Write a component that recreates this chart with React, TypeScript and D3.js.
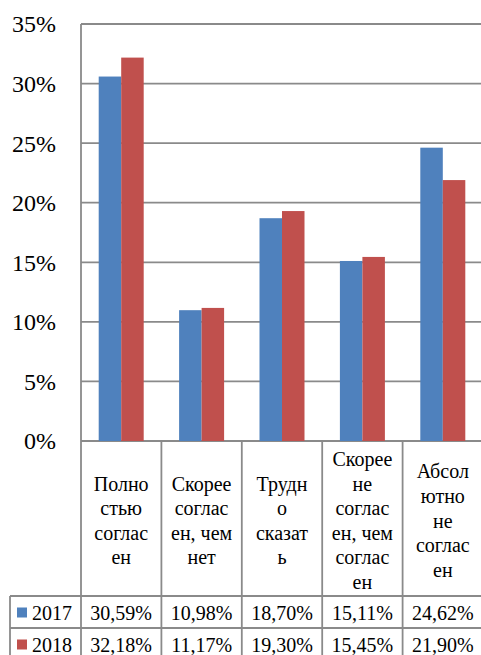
import React, { useEffect, useRef } from "react";
import * as d3 from "d3";

const categories: string[][] = [
  ["Полно", "стью", "соглас", "ен"],
  ["Скорее", "соглас", "ен, чем", "нет"],
  ["Трудн", "о", "сказат", "ь"],
  ["Скорее", "не", "соглас", "ен, чем", "соглас", "ен"],
  ["Абсол", "ютно", "не", "соглас", "ен"],
];
const series = ["2017", "2018"];
const values2017 = [30.59, 10.98, 18.7, 15.11, 24.62];
const values2018 = [32.18, 11.17, 19.3, 15.45, 21.9];
const yTicks = [0, 5, 10, 15, 20, 25, 30, 35];
const colors = ["#4F81BD", "#C0504D"];

const W = 481;
const H = 655;
const plotLeft = 81;
const plotRight = 483;
const plotTop = 24;
const plotBottom = 441;
const headerBottom = 596;
const row1Bottom = 628;
const tableLeft = 10;
const grid = "#8a8a8a";
const FONT = "Liberation Serif";

const fmt = (v: number) => v.toFixed(2).replace(".", ",") + "%";

export default function App() {
  const ref = useRef<SVGSVGElement>(null);

  useEffect(() => {
    const svg = d3.select(ref.current);
    svg.selectAll("*").remove();
    const idx = categories.map((_, i) => i);
    const x = d3.scaleBand<number>().domain(idx).range([plotLeft, plotRight]).padding(0);
    const y = d3.scaleLinear().domain([0, 35]).range([plotBottom, plotTop]);
    const barW = 22.5;
    const inner = d3.scaleBand<number>().domain([0, 1]).range([-barW, barW]);
    const data = [values2017, values2018];
    const lineH = 24.6;
    const cxOf = (i: number) => (x(i) as number) + x.bandwidth() / 2;

    const g = svg.append("g");

    g.selectAll("line.grid")
      .data(yTicks)
      .join("line")
      .attr("x1", plotLeft)
      .attr("x2", plotRight)
      .attr("y1", (d) => y(d))
      .attr("y2", (d) => y(d))
      .attr("stroke", grid)
      .attr("stroke-width", 1.8);

    g.selectAll("text.yl")
      .data(yTicks)
      .join("text")
      .attr("x", 56)
      .attr("y", (d) => y(d))
      .attr("dy", "0.35em")
      .attr("text-anchor", "end")
      .style("font-family", FONT)
      .style("font-size", "24px")
      .attr("fill", "#000")
      .text((d) => d + "%");

    data.forEach((vals, s) => {
      g.selectAll(`rect.s${s}`)
        .data(vals)
        .join("rect")
        .attr("x", (_, i) => cxOf(i) + (inner(s) as number))
        .attr("y", (d) => y(d))
        .attr("width", inner.bandwidth())
        .attr("height", (d) => plotBottom - y(d))
        .attr("fill", colors[s]);
    });

    const vx = [plotLeft, ...idx.map((i) => (x(i) as number) + x.bandwidth())];
    g.append("line").attr("x1", plotLeft).attr("x2", plotLeft).attr("y1", plotTop).attr("y2", H).attr("stroke", grid).attr("stroke-width", 1.8);
    vx.slice(1).forEach((xx) => {
      g.append("line").attr("x1", xx).attr("x2", xx).attr("y1", plotBottom).attr("y2", H).attr("stroke", grid).attr("stroke-width", 1.8);
    });
    g.append("line").attr("x1", tableLeft).attr("x2", tableLeft).attr("y1", headerBottom).attr("y2", H).attr("stroke", grid).attr("stroke-width", 1.8);
    [headerBottom, row1Bottom].forEach((yy) => {
      g.append("line").attr("x1", tableLeft).attr("x2", plotRight).attr("y1", yy).attr("y2", yy).attr("stroke", grid).attr("stroke-width", 1.8);
    });

    categories.forEach((lines, i) => {
      const mid = (plotBottom + headerBottom) / 2 + 2;
      const start = mid - ((lines.length - 1) * lineH) / 2;
      lines.forEach((l, k) => {
        g.append("text")
          .attr("x", cxOf(i))
          .attr("y", start + k * lineH)
          .attr("dy", "0.35em")
          .attr("text-anchor", "middle")
          .style("font-family", FONT)
          .style("font-size", "20px")
          .attr("fill", "#000")
          .text(l);
      });
    });

    series.forEach((name, s) => {
      const top = s === 0 ? headerBottom : row1Bottom;
      const cy = top + 16.5;
      g.append("rect").attr("x", 17).attr("y", cy - 5).attr("width", 10).attr("height", 10).attr("fill", colors[s]);
      g.append("text")
        .attr("x", 32)
        .attr("y", cy)
        .attr("dy", "0.35em")
        .style("font-family", FONT)
        .style("font-size", "20px")
        .attr("fill", "#000")
        .text(name);
      data[s].forEach((v, i) => {
        g.append("text")
          .attr("x", cxOf(i))
          .attr("y", cy)
          .attr("dy", "0.35em")
          .attr("text-anchor", "middle")
          .style("font-family", FONT)
          .style("font-size", "20px")
          .attr("fill", "#000")
          .text(fmt(v));
      });
    });
  }, []);

  return (
    <svg
      ref={ref}
      width={W}
      height={H}
      style={{ position: "absolute", left: 0, top: 0, background: "#fff" }}
    />
  );
}
